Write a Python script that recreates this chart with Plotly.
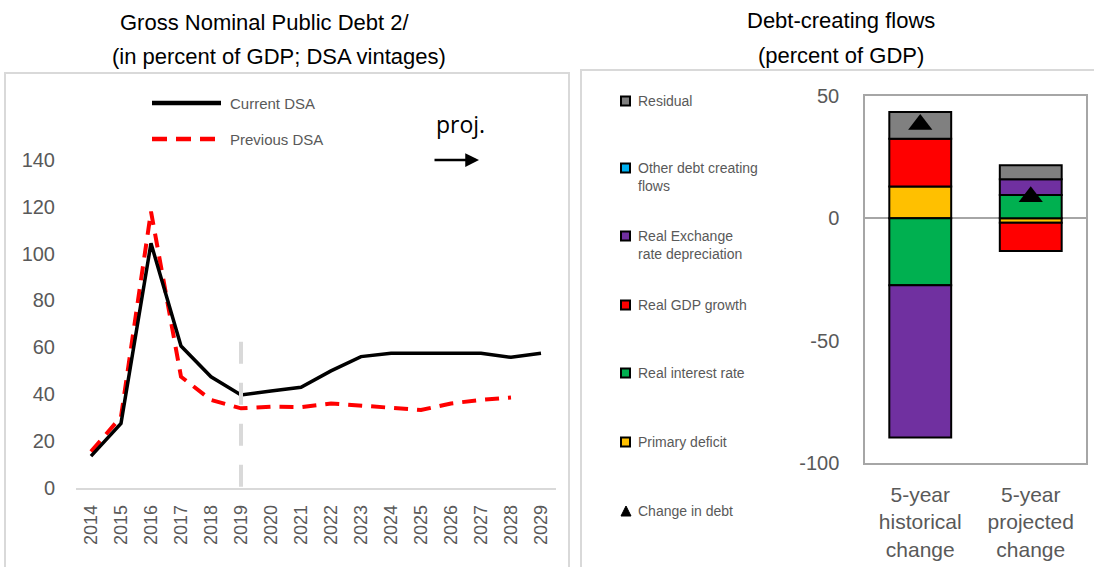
import plotly.graph_objects as go

# ---- Gross nominal public debt (percent of GDP) ----
years = [str(y) for y in range(2014, 2030)]
current_dsa = [13.5, 27.5, 104.4, 60.5, 47.4, 39.6, 41.3, 42.9, 49.9, 56.0,
               57.4, 57.4, 57.4, 57.4, 55.7, 57.4]
previous_dsa = [15.4, 30.3, 118.0, 47.4, 37.5, 33.9, 34.6, 34.4, 36.0, 35.0,
                34.3, 33.2, 36.0, 37.5, 38.5, None]
proj_year = "2019"
proj_marker = [0, 62.4]
y_ticks_left = [0, 20, 40, 60, 80, 100, 120, 140]

# ---- Debt-creating flows (percent of GDP) ----
flow_cats = ["5-year<br>historical<br>change", "5-year<br>projected<br>change"]
primary_deficit = [13.0, -1.8]
real_interest_rate = [-27.3, 9.5]
real_gdp_growth = [19.5, -11.6]
real_exchange_rate = [-62.3, 6.5]
other_flows = [0.0, 0.0]
residual = [11.0, 5.7]
change_in_debt = [38.4, 8.8]
y_ticks_right = [50, 0, -50, -100]

W, H = 1094, 567
GRAY_TXT = "#595959"
FONT = "Liberation Sans, Arial, sans-serif"


def px(x):
    return x / W


def py(y):
    return 1 - y / H


fig = go.Figure()

# Left panel lines
fig.add_trace(go.Scatter(x=years, y=previous_dsa, mode="lines", name="Previous DSA",
                         line=dict(color="#ff0000", width=4, dash="14px,9px"),
                         xaxis="x", yaxis="y", showlegend=False))
fig.add_trace(go.Scatter(x=years, y=current_dsa, mode="lines", name="Current DSA",
                         line=dict(color="black", width=3.5),
                         xaxis="x", yaxis="y", showlegend=False))
# dashed separator between history and projection
fig.add_trace(go.Scatter(x=[proj_year, proj_year], y=proj_marker[::-1], mode="lines",
                         line=dict(color="#d9d9d9", width=4, dash="22px,19px"),
                         xaxis="x", yaxis="y", showlegend=False, hoverinfo="skip"))

# Right panel stacked bars (stacking order: first trace nearest zero)
flows = [
    ("Primary deficit", primary_deficit, "#ffc000"),
    ("Real interest rate", real_interest_rate, "#00b050"),
    ("Real GDP growth", real_gdp_growth, "#ff0000"),
    ("Real Exchange rate depreciation", real_exchange_rate, "#7030a0"),
    ("Other debt creating flows", other_flows, "#00b0f0"),
    ("Residual", residual, "#808080"),
]
for name, vals, col in flows:
    lw = 0 if all(v == 0 for v in vals) else 2
    fig.add_trace(go.Bar(x=flow_cats, y=vals, name=name, marker=dict(color=col, line=dict(color="black", width=lw)),
                         xaxis="x2", yaxis="y2", showlegend=False))
fig.add_trace(go.Scatter(x=flow_cats, y=change_in_debt, mode="markers", name="Change in debt",
                         marker=dict(symbol="triangle-up", size=21, color="black"),
                         xaxis="x2", yaxis="y2", showlegend=False))

shapes = []
annotations = []

# Panel frames
shapes.append(dict(type="rect", xref="paper", yref="paper", x0=px(5), x1=px(569), y0=py(600), y1=py(73),
                   line=dict(color="#d9d9d9", width=2), fillcolor="rgba(0,0,0,0)", layer="below"))
shapes.append(dict(type="rect", xref="paper", yref="paper", x0=px(581), x1=px(1110), y0=py(600), y1=py(70),
                   line=dict(color="#d9d9d9", width=2), fillcolor="rgba(0,0,0,0)", layer="below"))

# Titles
annotations += [
    dict(text="Gross Nominal Public Debt 2/", x=px(118), y=py(22), xanchor="left", yanchor="middle"),
    dict(text="(in percent of GDP; DSA vintages)", x=px(110), y=py(56), xanchor="left", yanchor="middle"),
    dict(text="Debt-creating flows", x=px(841), y=py(20), xanchor="center", yanchor="middle"),
    dict(text="(percent of GDP)", x=px(841), y=py(55), xanchor="center", yanchor="middle"),
]
for a in annotations:
    a.update(xref="paper", yref="paper", showarrow=False, font=dict(family=FONT, size=22, color="black"))

# Left legend
shapes.append(dict(type="line", xref="paper", yref="paper", x0=px(152), x1=px(221), y0=py(103), y1=py(103),
                   line=dict(color="black", width=4.5)))
shapes.append(dict(type="line", xref="paper", yref="paper", x0=px(152), x1=px(221), y0=py(139), y1=py(139),
                   line=dict(color="#ff0000", width=4.5, dash="15px,9px")))
for txt, yy in [("Current DSA", 103), ("Previous DSA", 139)]:
    annotations.append(dict(text=txt, x=px(228), y=py(yy), xref="paper", yref="paper", showarrow=False,
                            xanchor="left", yanchor="middle", font=dict(family=FONT, size=15, color=GRAY_TXT)))

# Projection marker
annotations.append(dict(text="proj.", x=px(460), y=py(124), xref="paper", yref="paper", showarrow=False,
                        xanchor="center", yanchor="middle", font=dict(family="Open Sans, sans-serif", size=23, color="black")))
annotations.append(dict(text="", x=px(479), y=py(160), xref="paper", yref="paper", showarrow=True,
                        ax=-46, ay=0, arrowhead=2, arrowsize=1.1, arrowwidth=2.5, arrowcolor="black"))

# Right legend
legend_items = [
    ("Residual", "#808080", 101),
    ("Other debt creating<br>flows", "#00b0f0", 168),
    ("Real Exchange<br>rate depreciation", "#7030a0", 236),
    ("Real GDP growth", "#ff0000", 305),
    ("Real interest rate", "#00b050", 373),
    ("Primary deficit", "#ffc000", 442),
]
for txt, col, yy in legend_items:
    shapes.append(dict(type="rect", xref="paper", yref="paper", x0=px(621), x1=px(630), y0=py(yy + 4.5), y1=py(yy - 4.5),
                       line=dict(color="black", width=2), fillcolor=col))
    annotations.append(dict(text=txt, x=px(636), y=py(yy - 10), xref="paper", yref="paper", showarrow=False,
                            xanchor="left", yanchor="top", align="left",
                            font=dict(family=FONT, size=14, color=GRAY_TXT)))
shapes.append(dict(type="path", xref="paper", yref="paper",
                   path=f"M {px(621)},{py(516)} L {px(631)},{py(516)} L {px(626)},{py(506)} Z",
                   fillcolor="black", line=dict(color="black", width=1)))
annotations.append(dict(text="Change in debt", x=px(636), y=py(511), xref="paper", yref="paper", showarrow=False,
                        xanchor="left", yanchor="middle", font=dict(family=FONT, size=14, color=GRAY_TXT)))

fig.update_layout(
    width=W, height=H,
    margin=dict(l=0, r=0, t=0, b=0),
    paper_bgcolor="white", plot_bgcolor="white",
    barmode="relative", bargap=0.44,
    showlegend=False,
    font=dict(family=FONT, color=GRAY_TXT),
    shapes=shapes, annotations=annotations,
    xaxis=dict(domain=[px(76), px(556)], type="category", range=[-0.5, 15.5],
               categoryorder="array", categoryarray=years, automargin=False,
               showline=True, linecolor="#d9d9d9", linewidth=2, showgrid=False, zeroline=False,
               tickangle=-90, ticks="outside", ticklen=8, tickcolor="rgba(0,0,0,0)",
               tickfont=dict(size=18, color=GRAY_TXT), anchor="y"),
    yaxis=dict(domain=[py(487.7), py(160)], range=[0, 140], tickvals=y_ticks_left, automargin=False,
               showline=False, showgrid=False, zeroline=False,
               ticks="outside", ticklen=16, tickcolor="rgba(0,0,0,0)",
               tickfont=dict(size=20, color=GRAY_TXT), anchor="x"),
    xaxis2=dict(domain=[px(865), px(1086)], type="category", anchor="y2", automargin=False,
                showline=True, mirror=True, linecolor="#a6a6a6", linewidth=1.5, showgrid=False,
                ticks="outside", ticklen=12, tickcolor="rgba(0,0,0,0)",
                tickfont=dict(size=21, color=GRAY_TXT)),
    yaxis2=dict(domain=[py(463), py(96)], range=[-100, 50], tickvals=y_ticks_right,
                ticktext=[str(v) for v in y_ticks_right], anchor="x2", automargin=False,
                showline=True, mirror=True, linecolor="#a6a6a6", linewidth=1.5, showgrid=False,
                zeroline=True, zerolinecolor="#a6a6a6", zerolinewidth=1.5,
                ticks="outside", ticklen=20, tickcolor="rgba(0,0,0,0)",
                tickfont=dict(size=20, color=GRAY_TXT)),
)

fig.write_html("out.html")
